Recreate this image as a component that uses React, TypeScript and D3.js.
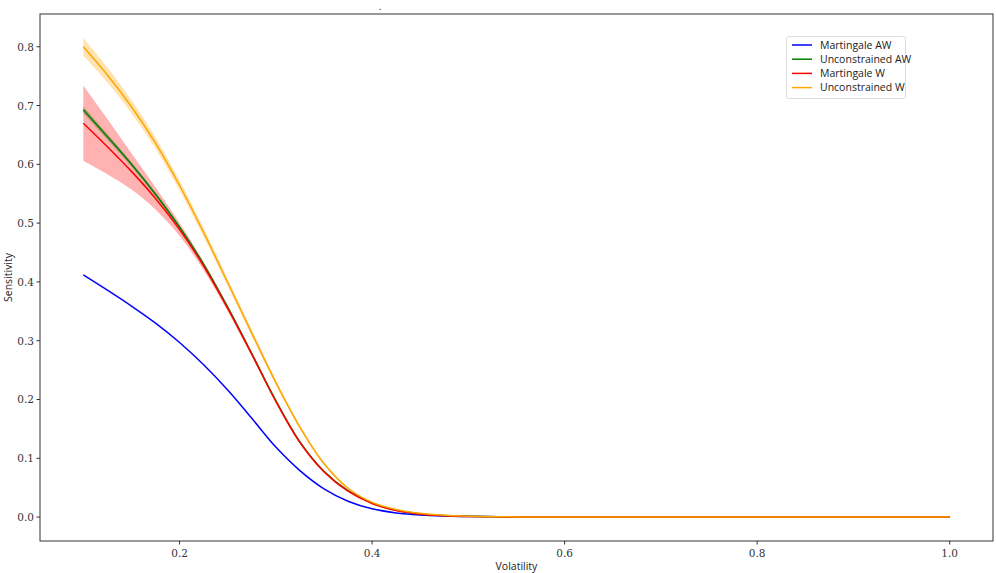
import React from "react";
import * as d3 from "d3";

const volatility = [0.1, 0.125, 0.15, 0.175, 0.2, 0.225, 0.25, 0.275, 0.3, 0.325, 0.35, 0.375, 0.4, 0.425, 0.45, 0.475, 0.5, 0.55, 0.6, 0.7, 0.8, 0.9, 1.0];

const martingaleAW = [0.412, 0.386, 0.359, 0.33, 0.297, 0.259, 0.216, 0.168, 0.119, 0.079, 0.048, 0.027, 0.014, 0.007, 0.0035, 0.0018, 0.0009, 0.0002, 0, 0, 0, 0, 0];
const unconstrainedAW = [0.693, 0.647, 0.6, 0.549, 0.493, 0.43, 0.357, 0.278, 0.198, 0.128, 0.078, 0.045, 0.024, 0.0115, 0.0053, 0.0025, 0.0012, 0.0002, 0, 0, 0, 0, 0];
const martingaleW = [0.67, 0.63, 0.588, 0.542, 0.489, 0.427, 0.355, 0.277, 0.197, 0.127, 0.077, 0.044, 0.023, 0.011, 0.005, 0.0024, 0.0011, 0.0002, 0, 0, 0, 0, 0];
const unconstrainedW = [0.8, 0.752, 0.698, 0.636, 0.564, 0.484, 0.399, 0.313, 0.229, 0.153, 0.091, 0.049, 0.025, 0.013, 0.0065, 0.0032, 0.0015, 0.0003, 0, 0, 0, 0, 0];

const unconstrainedAWBand = [0.006, 0.005, 0.004, 0.0035, 0.003, 0.0025, 0.002, 0.002, 0.0015, 0.001, 0.001, 0.0005, 0.0003, 0, 0, 0, 0, 0, 0, 0, 0, 0, 0];
const martingaleWBand = [0.064, 0.047, 0.031, 0.019, 0.011, 0.007, 0.005, 0.004, 0.003, 0.0025, 0.002, 0.0015, 0.001, 0.0005, 0, 0, 0, 0, 0, 0, 0, 0, 0];
const unconstrainedWBand = [0.015, 0.013, 0.011, 0.0095, 0.0085, 0.0075, 0.0065, 0.0055, 0.0045, 0.0035, 0.0025, 0.0015, 0.001, 0.0005, 0, 0, 0, 0, 0, 0, 0, 0, 0];

const xTicks = [0.2, 0.4, 0.6, 0.8, 1.0];
const yTicks = [0.0, 0.1, 0.2, 0.3, 0.4, 0.5, 0.6, 0.7, 0.8];

const seriesNames = ["Martingale AW", "Unconstrained AW", "Martingale W", "Unconstrained W"];
const seriesColors = ["#0000ff", "#008000", "#ff0000", "#ffa500"];

const W = 996, H = 573;
const L = 40, R = 993, T = 14, B = 541;

export default function App() {
  const x = d3.scaleLinear().domain([0.055, 1.045]).range([L, R]);
  const y = d3.scaleLinear().domain([-0.0407, 0.8557]).range([B, T]);
  const curve = d3.curveCatmullRom.alpha(0.5);

  const line = (vals: number[]) =>
    d3.line<number>().x((_, i) => x(volatility[i])).y((v) => y(v)).curve(curve)(vals) || "";
  const band = (vals: number[], hw: number[]) =>
    d3
      .area<number>()
      .x((_, i) => x(volatility[i]))
      .y0((v, i) => y(v - hw[i]))
      .y1((v, i) => y(v + hw[i]))
      .curve(curve)(vals) || "";

  const series = [martingaleAW, unconstrainedAW, martingaleW, unconstrainedW];
  const bands: [number[], number[], string][] = [
    [unconstrainedAW, unconstrainedAWBand, seriesColors[1]],
    [martingaleW, martingaleWBand, seriesColors[2]],
    [unconstrainedW, unconstrainedWBand, seriesColors[3]],
  ];

  const serif = "'DejaVu Serif', 'Liberation Serif', serif";
  const sans = "'Open Sans', 'DejaVu Sans', sans-serif";

  return (
    <svg width={W} height={H} style={{ position: "fixed", left: 0, top: 0, background: "#fff" }}>
      <rect x={0} y={0} width={W} height={H} fill="#fff" />
      <text x={380} y={10} fontSize={10} style={{ fontFamily: serif }} textAnchor="middle" fill="#333">.</text>
      <g>
        {bands.map(([v, hw, c], i) => (
          <path key={"b" + i} d={band(v, hw)} fill={c} fillOpacity={0.3} stroke="none" />
        ))}
        {series.map((v, i) => (
          <path key={"l" + i} d={line(v)} fill="none" stroke={seriesColors[i]} strokeWidth={1.5} />
        ))}
      </g>
      <rect x={L} y={T} width={R - L} height={B - T} fill="none" stroke="#333" strokeWidth={1} />
      {xTicks.map((t) => (
        <g key={"x" + t}>
          <line x1={x(t)} x2={x(t)} y1={B} y2={B + 3.5} stroke="#333" />
          <text x={x(t)} y={B + 16} fontSize={10.5} style={{ fontFamily: serif }} textAnchor="middle" fill="#333">
            {t.toFixed(1)}
          </text>
        </g>
      ))}
      {yTicks.map((t) => (
        <g key={"y" + t}>
          <line x1={L - 3.5} x2={L} y1={y(t)} y2={y(t)} stroke="#333" />
          <text x={L - 6} y={y(t) + 4} fontSize={10.5} style={{ fontFamily: serif }} textAnchor="end" fill="#333">
            {t.toFixed(1)}
          </text>
        </g>
      ))}
      <text x={(L + R) / 2} y={570} fontSize={10.5} style={{ fontFamily: sans }} textAnchor="middle" fill="#222">
        Volatility
      </text>
      <text
        transform={`translate(12, ${(T + B) / 2}) rotate(-90)`}
        fontSize={10.5}
        style={{ fontFamily: sans }}
        textAnchor="middle"
        fill="#222"
      >
        Sensitivity
      </text>
      <g>
        <rect x={786.5} y={36.5} width={119} height={62} fill="#fff" stroke="#ddd" rx={2} />
        {seriesNames.map((n, i) => (
          <g key={n}>
            <line x1={792} x2={812} y1={45 + i * 14.2} y2={45 + i * 14.2} stroke={seriesColors[i]} strokeWidth={1.5} />
            <text x={820} y={45 + i * 14.2 + 3.8} fontSize={10.5} style={{ fontFamily: sans }} fill="#222">
              {n}
            </text>
          </g>
        ))}
      </g>
    </svg>
  );
}
